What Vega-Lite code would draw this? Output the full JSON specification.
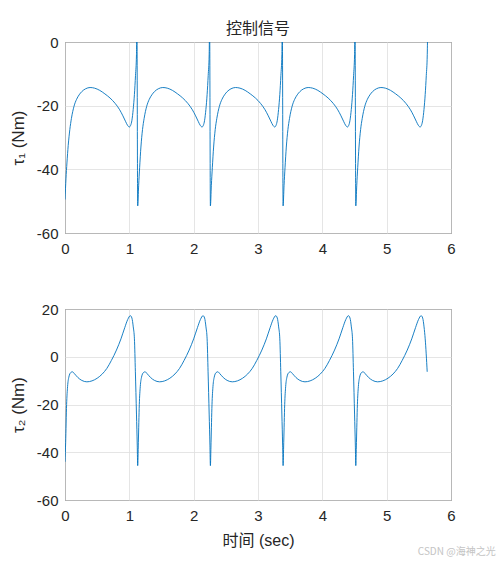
{
  "$schema": "https://vega.github.io/schema/vega-lite/v6.json",
  "background": "white",
  "padding": {"left": 8, "top": 20, "right": 3, "bottom": 2},
  "spacing": 44,
  "title": {
    "text": "CSDN @海神之光",
    "orient": "bottom",
    "anchor": "end",
    "font": "Noto Sans CJK SC",
    "fontSize": 10,
    "fontWeight": "normal",
    "color": "#c4c4c4",
    "dx": 40,
    "offset": -2
  },
  "config": {
    "font": "Liberation Sans",
    "view": {"stroke": "#262626", "strokeWidth": 1},
    "axis": {
      "grid": true,
      "gridColor": "#dedede",
      "gridWidth": 0.8,
      "domain": false,
      "ticks": false,
      "labelFont": "Liberation Sans",
      "labelFontSize": 15,
      "labelColor": "#262626",
      "labelExpr": "'' + datum.value",
      "titleFont": "Liberation Sans, Noto Sans CJK SC",
      "titleFontSize": 17,
      "titleFontWeight": "normal",
      "titleColor": "#262626"
    }
  },
  "datasets": {
    "tau1": [
      {"t": 0, "v": -49.5}, {"t": 0.015, "v": -43}, {"t": 0.03, "v": -38}, {"t": 0.05, "v": -32.5}, {"t": 0.075, "v": -27.5}, {"t": 0.1, "v": -24}, {"t": 0.14, "v": -20.2}, {"t": 0.18, "v": -18}, {"t": 0.22, "v": -16.6}, {"t": 0.26, "v": -15.6}, {"t": 0.32, "v": -14.7}, {"t": 0.39, "v": -14.3}, {"t": 0.46, "v": -14.5}, {"t": 0.54, "v": -15.2}, {"t": 0.62, "v": -16.3}, {"t": 0.7, "v": -17.6}, {"t": 0.78, "v": -19.3}, {"t": 0.85, "v": -21.3}, {"t": 0.9, "v": -23.2}, {"t": 0.94, "v": -24.9}, {"t": 0.97, "v": -26.1}, {"t": 1.0, "v": -26.7}, {"t": 1.02, "v": -26.2}, {"t": 1.04, "v": -24.6}, {"t": 1.06, "v": -21.2}, {"t": 1.079, "v": -16.5}, {"t": 1.096, "v": -10.5}, {"t": 1.111, "v": -4}, {"t": 1.118, "v": 6},
      {"t": 1.13, "v": -51.5}, {"t": 1.145, "v": -45}, {"t": 1.16, "v": -39.5}, {"t": 1.18, "v": -33}, {"t": 1.205, "v": -27.5}, {"t": 1.23, "v": -24}, {"t": 1.27, "v": -20.2}, {"t": 1.31, "v": -18}, {"t": 1.35, "v": -16.6}, {"t": 1.39, "v": -15.6}, {"t": 1.45, "v": -14.7}, {"t": 1.52, "v": -14.3}, {"t": 1.59, "v": -14.5}, {"t": 1.67, "v": -15.2}, {"t": 1.75, "v": -16.3}, {"t": 1.83, "v": -17.6}, {"t": 1.91, "v": -19.3}, {"t": 1.98, "v": -21.3}, {"t": 2.03, "v": -23.2}, {"t": 2.07, "v": -24.9}, {"t": 2.1, "v": -26.1}, {"t": 2.13, "v": -26.7}, {"t": 2.15, "v": -26.2}, {"t": 2.17, "v": -24.6}, {"t": 2.19, "v": -21.2}, {"t": 2.209, "v": -16.5}, {"t": 2.226, "v": -10.5}, {"t": 2.241, "v": -4}, {"t": 2.248, "v": 6},
      {"t": 2.26, "v": -51.5}, {"t": 2.275, "v": -45}, {"t": 2.29, "v": -39.5}, {"t": 2.31, "v": -33}, {"t": 2.335, "v": -27.5}, {"t": 2.36, "v": -24}, {"t": 2.4, "v": -20.2}, {"t": 2.44, "v": -18}, {"t": 2.48, "v": -16.6}, {"t": 2.52, "v": -15.6}, {"t": 2.58, "v": -14.7}, {"t": 2.65, "v": -14.3}, {"t": 2.72, "v": -14.5}, {"t": 2.8, "v": -15.2}, {"t": 2.88, "v": -16.3}, {"t": 2.96, "v": -17.6}, {"t": 3.04, "v": -19.3}, {"t": 3.11, "v": -21.3}, {"t": 3.16, "v": -23.2}, {"t": 3.2, "v": -24.9}, {"t": 3.23, "v": -26.1}, {"t": 3.26, "v": -26.7}, {"t": 3.28, "v": -26.2}, {"t": 3.3, "v": -24.6}, {"t": 3.32, "v": -21.2}, {"t": 3.339, "v": -16.5}, {"t": 3.356, "v": -10.5}, {"t": 3.371, "v": -4}, {"t": 3.378, "v": 6},
      {"t": 3.39, "v": -51.5}, {"t": 3.405, "v": -45}, {"t": 3.42, "v": -39.5}, {"t": 3.44, "v": -33}, {"t": 3.465, "v": -27.5}, {"t": 3.49, "v": -24}, {"t": 3.53, "v": -20.2}, {"t": 3.57, "v": -18}, {"t": 3.61, "v": -16.6}, {"t": 3.65, "v": -15.6}, {"t": 3.71, "v": -14.7}, {"t": 3.78, "v": -14.3}, {"t": 3.85, "v": -14.5}, {"t": 3.93, "v": -15.2}, {"t": 4.01, "v": -16.3}, {"t": 4.09, "v": -17.6}, {"t": 4.17, "v": -19.3}, {"t": 4.24, "v": -21.3}, {"t": 4.29, "v": -23.2}, {"t": 4.33, "v": -24.9}, {"t": 4.36, "v": -26.1}, {"t": 4.39, "v": -26.7}, {"t": 4.41, "v": -26.2}, {"t": 4.43, "v": -24.6}, {"t": 4.45, "v": -21.2}, {"t": 4.469, "v": -16.5}, {"t": 4.486, "v": -10.5}, {"t": 4.501, "v": -4}, {"t": 4.508, "v": 6},
      {"t": 4.52, "v": -51.5}, {"t": 4.535, "v": -45}, {"t": 4.55, "v": -39.5}, {"t": 4.57, "v": -33}, {"t": 4.595, "v": -27.5}, {"t": 4.62, "v": -24}, {"t": 4.66, "v": -20.2}, {"t": 4.7, "v": -18}, {"t": 4.74, "v": -16.6}, {"t": 4.78, "v": -15.6}, {"t": 4.84, "v": -14.7}, {"t": 4.91, "v": -14.3}, {"t": 4.98, "v": -14.5}, {"t": 5.06, "v": -15.2}, {"t": 5.14, "v": -16.3}, {"t": 5.22, "v": -17.6}, {"t": 5.3, "v": -19.3}, {"t": 5.37, "v": -21.3}, {"t": 5.42, "v": -23.2}, {"t": 5.46, "v": -24.9}, {"t": 5.49, "v": -26.1}, {"t": 5.52, "v": -26.7}, {"t": 5.54, "v": -26.2}, {"t": 5.56, "v": -24.6}, {"t": 5.58, "v": -21.2}, {"t": 5.599, "v": -16.5}, {"t": 5.616, "v": -10.5}, {"t": 5.631, "v": -4}, {"t": 5.638, "v": 6}
    ],
    "tau2": [
      {"t": 0, "v": -44}, {"t": 0.01, "v": -36}, {"t": 0.025, "v": -20}, {"t": 0.04, "v": -12.5}, {"t": 0.06, "v": -8.5}, {"t": 0.09, "v": -6.6}, {"t": 0.115, "v": -6.3}, {"t": 0.15, "v": -7.2}, {"t": 0.2, "v": -8.7}, {"t": 0.26, "v": -9.9}, {"t": 0.34, "v": -10.5}, {"t": 0.42, "v": -10.1}, {"t": 0.5, "v": -9}, {"t": 0.58, "v": -7.2}, {"t": 0.65, "v": -4.9}, {"t": 0.72, "v": -1.6}, {"t": 0.8, "v": 2.8}, {"t": 0.87, "v": 7.5}, {"t": 0.93, "v": 12.3}, {"t": 0.975, "v": 15.6}, {"t": 1.016, "v": 17.2}, {"t": 1.04, "v": 16.2}, {"t": 1.061, "v": 12.5}, {"t": 1.079, "v": 7.5}, {"t": 1.094, "v": -6.3}, {"t": 1.111, "v": -24}, {"t": 1.123, "v": -37},
      {"t": 1.13, "v": -45.6}, {"t": 1.14, "v": -36}, {"t": 1.155, "v": -20}, {"t": 1.17, "v": -12.5}, {"t": 1.19, "v": -8.5}, {"t": 1.22, "v": -6.6}, {"t": 1.245, "v": -6.3}, {"t": 1.28, "v": -7.2}, {"t": 1.33, "v": -8.7}, {"t": 1.39, "v": -9.9}, {"t": 1.47, "v": -10.5}, {"t": 1.55, "v": -10.1}, {"t": 1.63, "v": -9}, {"t": 1.71, "v": -7.2}, {"t": 1.78, "v": -4.9}, {"t": 1.85, "v": -1.6}, {"t": 1.93, "v": 2.8}, {"t": 2.0, "v": 7.5}, {"t": 2.06, "v": 12.3}, {"t": 2.105, "v": 15.6}, {"t": 2.146, "v": 17.2}, {"t": 2.17, "v": 16.2}, {"t": 2.191, "v": 12.5}, {"t": 2.209, "v": 7.5}, {"t": 2.224, "v": -6.3}, {"t": 2.241, "v": -24}, {"t": 2.253, "v": -37},
      {"t": 2.26, "v": -45.6}, {"t": 2.27, "v": -36}, {"t": 2.285, "v": -20}, {"t": 2.3, "v": -12.5}, {"t": 2.32, "v": -8.5}, {"t": 2.35, "v": -6.6}, {"t": 2.375, "v": -6.3}, {"t": 2.41, "v": -7.2}, {"t": 2.46, "v": -8.7}, {"t": 2.52, "v": -9.9}, {"t": 2.6, "v": -10.5}, {"t": 2.68, "v": -10.1}, {"t": 2.76, "v": -9}, {"t": 2.84, "v": -7.2}, {"t": 2.91, "v": -4.9}, {"t": 2.98, "v": -1.6}, {"t": 3.06, "v": 2.8}, {"t": 3.13, "v": 7.5}, {"t": 3.19, "v": 12.3}, {"t": 3.235, "v": 15.6}, {"t": 3.276, "v": 17.2}, {"t": 3.3, "v": 16.2}, {"t": 3.321, "v": 12.5}, {"t": 3.339, "v": 7.5}, {"t": 3.354, "v": -6.3}, {"t": 3.371, "v": -24}, {"t": 3.383, "v": -37},
      {"t": 3.39, "v": -45.6}, {"t": 3.4, "v": -36}, {"t": 3.415, "v": -20}, {"t": 3.43, "v": -12.5}, {"t": 3.45, "v": -8.5}, {"t": 3.48, "v": -6.6}, {"t": 3.505, "v": -6.3}, {"t": 3.54, "v": -7.2}, {"t": 3.59, "v": -8.7}, {"t": 3.65, "v": -9.9}, {"t": 3.73, "v": -10.5}, {"t": 3.81, "v": -10.1}, {"t": 3.89, "v": -9}, {"t": 3.97, "v": -7.2}, {"t": 4.04, "v": -4.9}, {"t": 4.11, "v": -1.6}, {"t": 4.19, "v": 2.8}, {"t": 4.26, "v": 7.5}, {"t": 4.32, "v": 12.3}, {"t": 4.365, "v": 15.6}, {"t": 4.406, "v": 17.2}, {"t": 4.43, "v": 16.2}, {"t": 4.451, "v": 12.5}, {"t": 4.469, "v": 7.5}, {"t": 4.484, "v": -6.3}, {"t": 4.501, "v": -24}, {"t": 4.513, "v": -37},
      {"t": 4.52, "v": -45.6}, {"t": 4.53, "v": -36}, {"t": 4.545, "v": -20}, {"t": 4.56, "v": -12.5}, {"t": 4.58, "v": -8.5}, {"t": 4.61, "v": -6.6}, {"t": 4.635, "v": -6.3}, {"t": 4.67, "v": -7.2}, {"t": 4.72, "v": -8.7}, {"t": 4.78, "v": -9.9}, {"t": 4.86, "v": -10.5}, {"t": 4.94, "v": -10.1}, {"t": 5.02, "v": -9}, {"t": 5.1, "v": -7.2}, {"t": 5.17, "v": -4.9}, {"t": 5.24, "v": -1.6}, {"t": 5.32, "v": 2.8}, {"t": 5.39, "v": 7.5}, {"t": 5.45, "v": 12.3}, {"t": 5.495, "v": 15.6}, {"t": 5.536, "v": 17.2}, {"t": 5.56, "v": 16.2}, {"t": 5.581, "v": 12.5}, {"t": 5.599, "v": 7.5}, {"t": 5.63, "v": -6.3}
    ]
  },
  "vconcat": [
    {
      "title": {
        "text": "控制信号",
        "font": "Noto Sans CJK SC",
        "fontSize": 16,
        "fontWeight": "normal",
        "color": "#262626",
        "offset": -2
      },
      "width": 386,
      "height": 191,
      "data": {"name": "tau1"},
      "mark": {"type": "line", "color": "#0072BD", "strokeWidth": 0.9, "clip": true, "interpolate": "monotone"},
      "encoding": {
        "x": {
          "field": "t",
          "type": "quantitative",
          "scale": {"domain": [0, 6], "nice": false},
          "axis": {"title": null, "values": [0, 1, 2, 3, 4, 5, 6], "labelPadding": 8, "labelFlush": false}
        },
        "y": {
          "field": "v",
          "type": "quantitative",
          "scale": {"domain": [-60, 0], "nice": false},
          "axis": {"title": "τ₁ (Nm)", "values": [-60, -40, -20, 0], "labelPadding": 7, "titlePadding": 9}
        }
      }
    },
    {
      "width": 386,
      "height": 191,
      "data": {"name": "tau2"},
      "mark": {"type": "line", "color": "#0072BD", "strokeWidth": 0.9, "clip": true, "interpolate": "monotone"},
      "encoding": {
        "x": {
          "field": "t",
          "type": "quantitative",
          "scale": {"domain": [0, 6], "nice": false},
          "axis": {"title": "时间 (sec)", "titleFontSize": 16, "values": [0, 1, 2, 3, 4, 5, 6], "labelPadding": 8, "labelFlush": false, "titlePadding": 9}
        },
        "y": {
          "field": "v",
          "type": "quantitative",
          "scale": {"domain": [-60, 20], "nice": false},
          "axis": {"title": "τ₂ (Nm)", "values": [-60, -40, -20, 0, 20], "labelPadding": 7, "titlePadding": 9}
        }
      }
    }
  ]
}
